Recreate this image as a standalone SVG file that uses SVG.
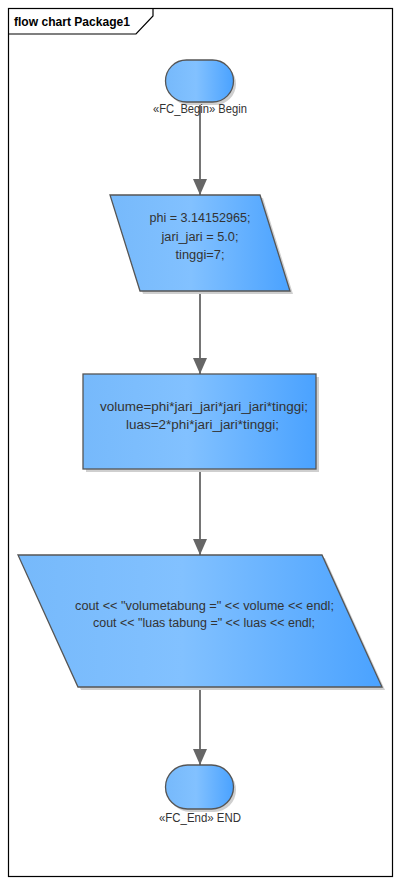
<svg xmlns="http://www.w3.org/2000/svg" width="400" height="886" viewBox="0 0 400 886">
<defs>
<linearGradient id="g" x1="0" y1="0" x2="1" y2="0">
<stop offset="0" stop-color="#76b9fb"/>
<stop offset="0.45" stop-color="#82c1ff"/>
<stop offset="1" stop-color="#4aa2ff"/>
</linearGradient>
<marker id="ah" markerUnits="userSpaceOnUse" markerWidth="16" markerHeight="14" refX="16" refY="7" orient="auto" viewBox="0 0 16 14">
<path d="M0,0 L16,7 L0,14 Z" fill="#666"/>
</marker>
</defs>
<style>
.sh{fill:#cfcfcf;stroke:none}
.nd{fill:url(#g);stroke:#555;stroke-width:1.3}
.t{font-family:"Liberation Sans",Arial,sans-serif;font-size:12.5px;fill:#333;text-anchor:middle}
.c{stroke:#666;stroke-width:1.8;fill:none}
</style>
<rect width="400" height="886" fill="#fff"/>
<g id="frame">
<rect x="8.5" y="8.5" width="384" height="868" fill="none" stroke="#000" stroke-width="1.2"/>
<path d="M8.5,34 L136,34 L153,16 L153,8.5" fill="none" stroke="#000" stroke-width="1.2"/>
<text x="14" y="26" font-family="'Liberation Sans',Arial,sans-serif" font-size="12.5" font-weight="bold" fill="#000" textLength="116" lengthAdjust="spacingAndGlyphs">flow chart Package1</text>
</g>
<g id="connectors">
<line class="c" x1="200" y1="102" x2="200" y2="195" marker-end="url(#ah)"/>
<line class="c" x1="200" y1="291" x2="200" y2="374" marker-end="url(#ah)"/>
<line class="c" x1="200" y1="469" x2="200" y2="555" marker-end="url(#ah)"/>
<line class="c" x1="200" y1="687" x2="200" y2="765" marker-end="url(#ah)"/>
</g>
<g id="begin">
<rect class="sh" x="168" y="63" width="68" height="42" rx="21"/>
<rect class="nd" x="165.5" y="60" width="68" height="42" rx="21"/>
<text class="t" x="200" y="113" textLength="94" lengthAdjust="spacingAndGlyphs">«FC_Begin» Begin</text>
</g>
<g id="input1">
<path class="sh" d="M113,198 L263,198 L293,294 L143,294 Z"/>
<path class="nd" d="M110,195 L260,195 L290,291 L140,291 Z"/>
<text class="t" x="200" y="222" textLength="101" lengthAdjust="spacingAndGlyphs">phi = 3.14152965;</text>
<text class="t" x="200" y="241" textLength="77" lengthAdjust="spacingAndGlyphs">jari_jari = 5.0;</text>
<text class="t" x="200" y="259" textLength="49" lengthAdjust="spacingAndGlyphs">tinggi=7;</text>
</g>
<g id="process">
<rect class="sh" x="86" y="377" width="233" height="95"/>
<rect class="nd" x="83" y="374" width="233" height="95"/>
<text class="t" x="204" y="411" textLength="208" lengthAdjust="spacingAndGlyphs">volume=phi*jari_jari*jari_jari*tinggi;</text>
<text class="t" x="202.5" y="429" textLength="153" lengthAdjust="spacingAndGlyphs">luas=2*phi*jari_jari*tinggi;</text>
</g>
<g id="output">
<path class="sh" d="M21,558 L325,558 L385,690 L81,690 Z"/>
<path class="nd" d="M18,555 L322,555 L382,687 L78,687 Z"/>
<text class="t" x="204.5" y="610" textLength="259" lengthAdjust="spacingAndGlyphs">cout &lt;&lt; "volumetabung =" &lt;&lt; volume &lt;&lt; endl;</text>
<text class="t" x="204" y="627" textLength="222" lengthAdjust="spacingAndGlyphs">cout &lt;&lt; "luas tabung =" &lt;&lt; luas &lt;&lt; endl;</text>
</g>
<g id="end">
<rect class="sh" x="168" y="768" width="68" height="44" rx="22"/>
<rect class="nd" x="165.5" y="765" width="68" height="44" rx="22"/>
<text class="t" x="200" y="822" textLength="82" lengthAdjust="spacingAndGlyphs">«FC_End» END</text>
</g>
</svg>
